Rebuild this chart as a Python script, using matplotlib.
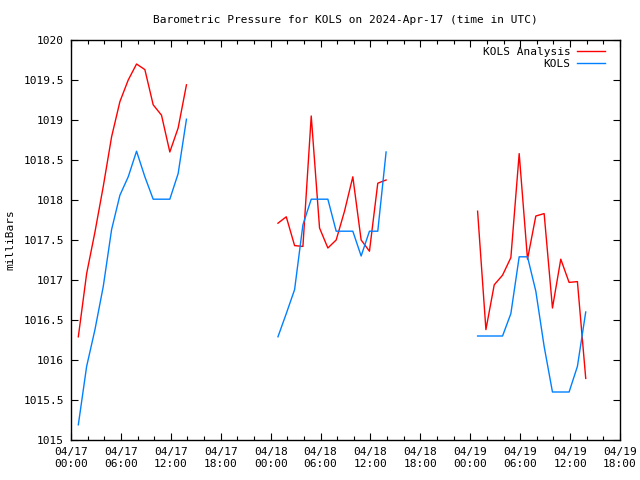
import numpy as np
import matplotlib
matplotlib.use("Agg")
import matplotlib.pyplot as plt
from matplotlib.ticker import MultipleLocator, FixedLocator, FuncFormatter

# Data: hourly observations, three segments (hours since 2024-04-17 00:00 UTC)
seg_start_hours = [0.88, 24.88, 48.88]

analysis_seg1 = [1016.29, 1017.08, 1017.60, 1018.17, 1018.79, 1019.23, 1019.50,
                 1019.70, 1019.63, 1019.19, 1019.06, 1018.60, 1018.90, 1019.44]
analysis_seg2 = [1017.71, 1017.79, 1017.43, 1017.42, 1019.05, 1017.65, 1017.40,
                 1017.50, 1017.86, 1018.29, 1017.50, 1017.36, 1018.21, 1018.25]
analysis_seg3 = [1017.86, 1016.38, 1016.94, 1017.06, 1017.28, 1018.58, 1017.26,
                 1017.80, 1017.83, 1016.65, 1017.26, 1016.97, 1016.98, 1015.77]

kols_seg1 = [1015.19, 1015.92, 1016.38, 1016.92, 1017.63, 1018.06, 1018.29,
             1018.61, 1018.29, 1018.01, 1018.01, 1018.01, 1018.33, 1019.01]
kols_seg2 = [1016.29, 1016.58, 1016.88, 1017.69, 1018.01, 1018.01, 1018.01,
             1017.61, 1017.61, 1017.61, 1017.30, 1017.61, 1017.61, 1018.60]
kols_seg3 = [1016.30, 1016.30, 1016.30, 1016.30, 1016.58, 1017.29, 1017.29,
             1016.86, 1016.17, 1015.60, 1015.60, 1015.60, 1015.92, 1016.60]

x_tick_hours = [0, 6, 12, 18, 24, 30, 36, 42, 48, 54, 60, 66]
x_tick_labels = ["04/17\n00:00", "04/17\n06:00", "04/17\n12:00", "04/17\n18:00",
                 "04/18\n00:00", "04/18\n06:00", "04/18\n12:00", "04/18\n18:00",
                 "04/19\n00:00", "04/19\n06:00", "04/19\n12:00", "04/19\n18:00"]
y_ticks = [1015, 1015.5, 1016, 1016.5, 1017, 1017.5, 1018, 1018.5, 1019, 1019.5, 1020]

title = "Barometric Pressure for KOLS on 2024-Apr-17 (time in UTC)"
ylabel = "milliBars"
series_names = ["KOLS Analysis", "KOLS"]
series_colors = ["#ff0000", "#0080ff"]


def build(segs):
    xs, ys = [], []
    for start, vals in zip(seg_start_hours, segs):
        xs.extend(start + np.arange(len(vals)))
        ys.extend(vals)
        xs.append(np.nan)
        ys.append(np.nan)
    return np.array(xs), np.array(ys)


plt.rcParams['font.family'] = ['DejaVu Sans Mono']
fig = plt.figure(figsize=(6.4, 4.8), dpi=100)
ax = fig.add_axes([71 / 640, 40 / 480, 549 / 640, 400 / 480])

ax_x, ax_y = build([analysis_seg1, analysis_seg2, analysis_seg3])
k_x, k_y = build([kols_seg1, kols_seg2, kols_seg3])
ax.plot(ax_x, ax_y, color=series_colors[0], lw=1.0, label=series_names[0])
ax.plot(k_x, k_y, color=series_colors[1], lw=1.0, label=series_names[1])

ax.set_xlim(0, 66)
ax.set_ylim(1015, 1020)
ax.xaxis.set_major_locator(FixedLocator(x_tick_hours))
ax.set_xticklabels(x_tick_labels)
ax.xaxis.set_minor_locator(MultipleLocator(2))
ax.yaxis.set_major_locator(FixedLocator(y_ticks))
ax.yaxis.set_major_formatter(FuncFormatter(lambda v, p: "%g" % v))

ax.tick_params(axis='both', which='major', direction='in', length=5, width=0.8,
               top=True, right=True, labelsize=8, pad=5)
ax.tick_params(axis='x', which='minor', direction='in', length=3, width=0.8,
               top=True, bottom=True)
for s in ax.spines.values():
    s.set_linewidth(1.0)

ax.set_title(title, fontsize=8, pad=12)
ax.set_ylabel(ylabel, fontsize=8, labelpad=6)

leg = ax.legend(loc='upper right', frameon=False, markerfirst=False, fontsize=8,
                handlelength=2.5, handletextpad=0.6, labelspacing=0.2,
                borderaxespad=0.2, bbox_to_anchor=(0.985, 1.0))
for t in leg.get_texts():
    t.set_ha('right')

fig.savefig("out.png", dpi=100)
